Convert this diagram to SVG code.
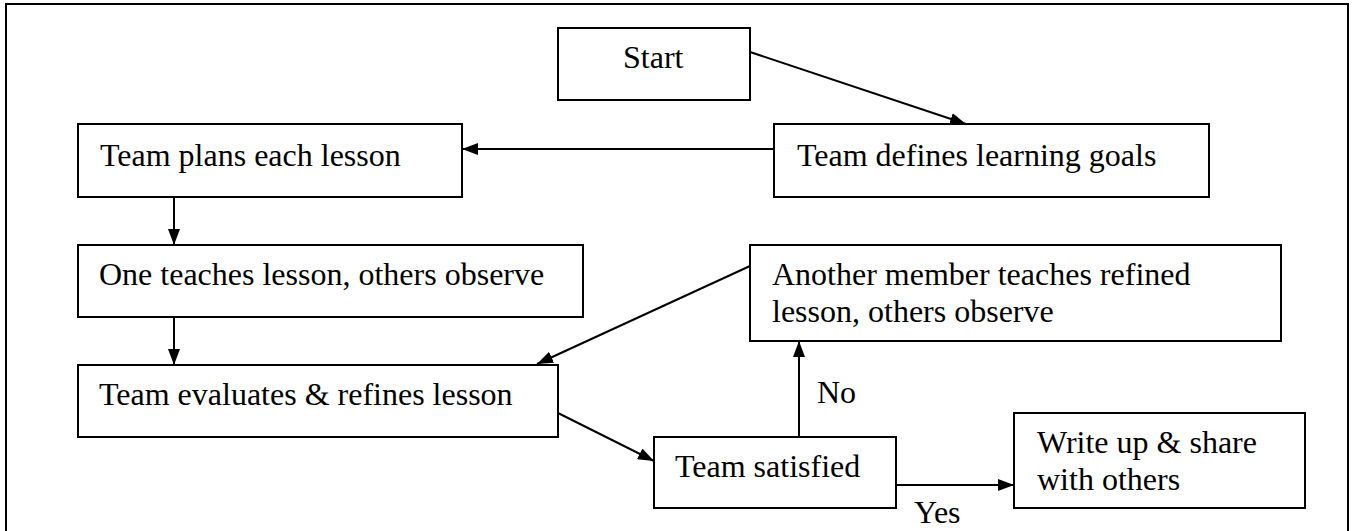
<svg xmlns="http://www.w3.org/2000/svg" width="1354" height="531" viewBox="0 0 1354 531" font-family="'Liberation Serif', 'Times New Roman', 'DejaVu Serif', serif">
<defs>
<style>
.box{fill:#fff;stroke:#000;stroke-width:2}
.t{font-family:'Liberation Serif','Times New Roman','DejaVu Serif',serif;font-size:32px;fill:#000}
.c{stroke:#000;stroke-width:2;fill:none}
</style>
<marker id="ah" markerUnits="userSpaceOnUse" markerWidth="16" markerHeight="12" refX="16" refY="6" orient="auto">
<path d="M0,0 L16,6 L0,12 Z" fill="#000"/>
</marker>
</defs>
<rect x="0" y="0" width="1354" height="531" fill="#fff"/>
<rect x="6" y="4" width="1342" height="560" fill="none" stroke="#000" stroke-width="2"/>
<g id="n-start"><rect class="box" x="558" y="28" width="192" height="72"/><text class="t" x="623" y="68">Start</text></g>
<g id="n-goals"><rect class="box" x="774" y="124" width="435" height="73"/><text class="t" x="797" y="166">Team defines learning goals</text></g>
<g id="n-plans"><rect class="box" x="78" y="124" width="384" height="73"/><text class="t" x="100" y="166">Team plans each lesson</text></g>
<g id="n-teach"><rect class="box" x="78" y="245" width="505" height="72"/><text class="t" x="99" y="285">One teaches lesson, others observe</text></g>
<g id="n-another"><rect class="box" x="750" y="245" width="531" height="96"/><text class="t" x="772" y="285">Another member teaches refined</text><text class="t" x="772" y="322">lesson, others observe</text></g>
<g id="n-eval"><rect class="box" x="78" y="365" width="480" height="72"/><text class="t" x="99" y="405">Team evaluates &amp; refines lesson</text></g>
<g id="n-sat"><rect class="box" x="654" y="437" width="242" height="71"/><text class="t" x="675" y="477">Team satisfied</text></g>
<g id="n-write"><rect class="box" x="1014" y="413" width="291" height="95"/><text class="t" x="1037" y="453">Write up &amp; share</text><text class="t" x="1037" y="490">with others</text></g>
<g id="connectors">
<line class="c" x1="750" y1="52" x2="966" y2="124" marker-end="url(#ah)"/>
<line class="c" x1="774" y1="149" x2="462" y2="149" marker-end="url(#ah)"/>
<line class="c" x1="174" y1="197" x2="174" y2="245" marker-end="url(#ah)"/>
<line class="c" x1="174" y1="317" x2="174" y2="365" marker-end="url(#ah)"/>
<line class="c" x1="750" y1="266" x2="537" y2="364" marker-end="url(#ah)"/>
<line class="c" x1="558" y1="413" x2="654" y2="461" marker-end="url(#ah)"/>
<line class="c" x1="799" y1="437" x2="799" y2="341" marker-end="url(#ah)"/>
<line class="c" x1="896" y1="485" x2="1014" y2="485" marker-end="url(#ah)"/>
<text class="t" x="817" y="403">No</text>
<text class="t" x="914" y="523">Yes</text>
</g>
</svg>
